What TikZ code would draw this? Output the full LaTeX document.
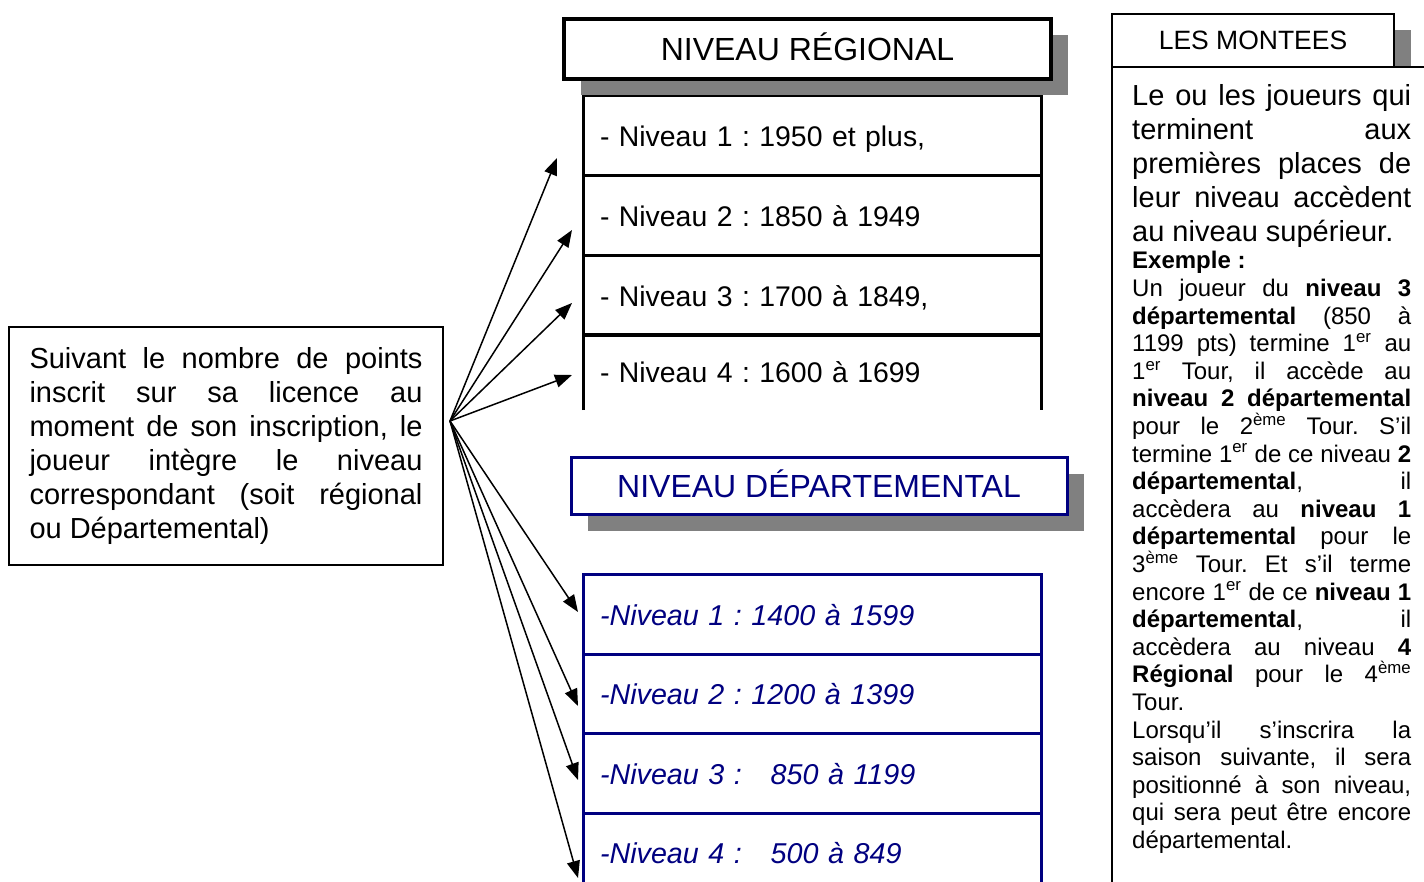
\documentclass[tikz,border=0pt]{standalone}
\usepackage{fontspec}
\setmainfont{Liberation Sans}
\usetikzlibrary{arrows.meta, shadows}

\definecolor{depblue}{RGB}{0,0,128}
\definecolor{shadowgray}{RGB}{128,128,128}
\setlength{\parindent}{0pt}
\frenchspacing
\tolerance=10000
\hbadness=10000
\lineskiplimit=-10pt

\begin{document}
\begin{tikzpicture}[x=1pt, y=-1pt,
    intro/.style={draw, line width=1.5pt, minimum width=434, minimum height=238,
      text width=393, inner xsep=20.5, align=justify,
      font=\fontsize{29}{34}\selectfont},
    lvl/.style={minimum width=458, text width=424, inner xsep=17, inner ysep=0,
      outer sep=0, align=left, text height=21, text depth=0},
    reglvl/.style={lvl, draw, line width=3pt, minimum height=80,
      font=\fontsize{28.4}{34}\selectfont},
    deplvl/.style={lvl, draw=depblue, line width=3pt, minimum height=79.5,
      text=depblue, font=\fontsize{28.7}{34}\selectfont\itshape},
    hdr/.style={fill=white, inner sep=0, text height=23, text depth=0,
      font=\fontsize{32}{38}\selectfont,
      drop shadow={shadow xshift=16.5pt, shadow yshift=-16.5pt,
        fill=shadowgray, opacity=1}},
    montxt/.style={anchor=north west, text width=279, inner sep=0, align=justify,
      font=\fontsize{24}{27.6}\selectfont},
    arr/.style={line width=1.5pt, -{Triangle[length=17pt, width=13pt]}}
  ]

  % page
  \useasboundingbox (0,0) rectangle (1424,882);
  \clip (0,0) rectangle (1424,882);

  % intro box
  \node[intro] (intro) at (226,446) {Suivant le nombre de points\linebreak
    inscrit sur sa licence au\linebreak
    moment de son inscription, le\linebreak
    joueur intègre le niveau\linebreak
    correspondant (soit régional\linebreak
    ou Départemental)\par};

  % regional levels
  \node[reglvl] (r1) at (812,136) {- Niveau 1 : 1950 et plus,};
  \node[reglvl] (r2) at (812,216) {- Niveau 2 : 1850 à 1949};
  \node[reglvl] (r3) at (812,296) {- Niveau 3 : 1700 à 1849,};
  \node[reglvl, draw=none, minimum height=75] (r4) at (812,372.5) {- Niveau 4 : 1600 à 1699};
  \draw[line width=3pt] (r4.south west) -- (r4.north west) -- (r4.north east) -- (r4.south east);
  \node[hdr, draw, line width=3.5pt, minimum width=487, minimum height=60] (reg) at (807.5,49) {NIVEAU RÉGIONAL};

  % departmental levels
  \node[deplvl] (d1) at (812,614.5) {-Niveau 1 : 1400 à 1599};
  \node[deplvl] (d2) at (812,694) {-Niveau 2 : 1200 à 1399};
  \node[deplvl] (d3) at (812,773.5) {-Niveau 3 :\ \ \ 850 à 1199};
  \node[deplvl] (d4) at (812,853) {-Niveau 4 :\ \ \ 500 à 849};
  \node[hdr, draw=depblue, line width=3pt, text=depblue, minimum width=496, minimum height=57] (dep) at (819,485.5) {NIVEAU DÉPARTEMENTAL};

  % promotions
  \node[hdr, draw, line width=1.5pt, minimum width=282, minimum height=53, text height=19,
    font=\fontsize{26.5}{30}\selectfont] (mon) at (1253,40.5) {LES MONTEES};
  \fill[white] (1112,67) rectangle (1440,900);
  \draw[line width=1.5pt] (1112,900) |- (1440,67);
  \node[montxt] (montxt) at (1132,84) {{\fontsize{29}{34}\selectfont
    Le ou les joueurs qui\linebreak
    terminent aux\linebreak
    premières places de\linebreak
    leur niveau accèdent\linebreak
    au niveau supérieur.\par}
    \textbf{Exemple :}\par
    Un joueur du \textbf{niveau 3}\linebreak
    \textbf{départemental} (850 à\linebreak
    1199 pts) termine 1\textsuperscript{er} au\linebreak
    1\textsuperscript{er} Tour, il accède au\linebreak
    \textbf{niveau 2 départemental}\linebreak
    pour le 2\textsuperscript{ème} Tour. S’il\linebreak
    termine 1\textsuperscript{er} de ce niveau \textbf{2}\linebreak
    \textbf{départemental}, il\linebreak
    accèdera au \textbf{niveau 1}\linebreak
    \textbf{départemental} pour le\linebreak
    3\textsuperscript{ème} Tour. Et s’il terme\linebreak
    encore 1\textsuperscript{er} de ce \textbf{niveau 1}\linebreak
    \textbf{départemental}, il\linebreak
    accèdera au niveau \textbf{4}\linebreak
    \textbf{Régional} pour le 4\textsuperscript{ème}\linebreak
    Tour.\par
    Lorsqu’il s’inscrira la\linebreak
    saison suivante, il sera\linebreak
    positionné à son niveau,\linebreak
    qui sera peut être encore\linebreak
    départemental.\par};

  % arrows
  \coordinate (fan) at (450,421);
  \coordinate (t1) at (557,158);
  \coordinate (t2) at (572,230);
  \coordinate (t3) at (572,303);
  \coordinate (t4) at (572,375);
  \coordinate (t5) at (578,612);
  \coordinate (t6) at (578,706);
  \coordinate (t7) at (578,780);
  \coordinate (t8) at (578,878);
  \foreach \t in {t1,t2,t3,t4,t5,t6,t7,t8}
    \draw[arr] (fan) -- (\t);
\end{tikzpicture}
\end{document}
